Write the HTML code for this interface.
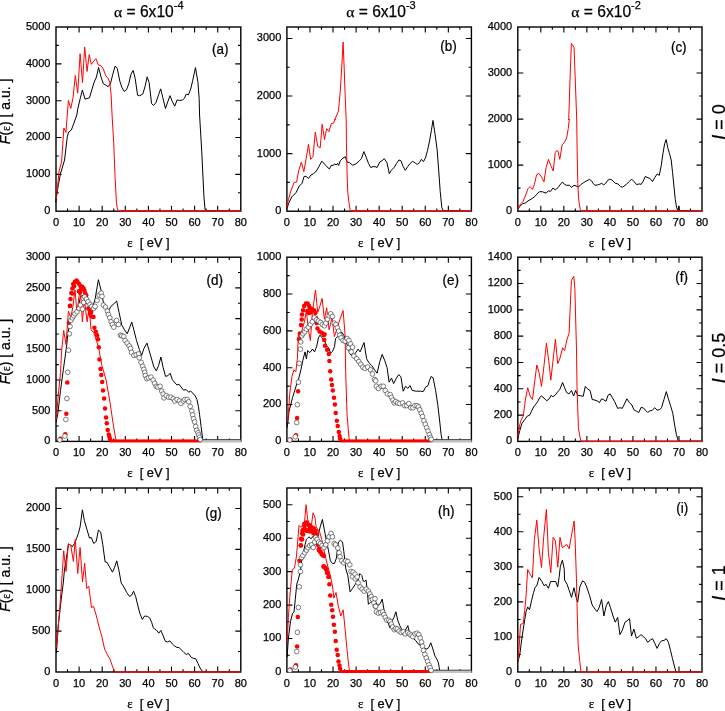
<!DOCTYPE html>
<html><head><meta charset="utf-8"><style>
html,body{margin:0;padding:0;background:#fff;}
svg{display:block;}
text{font-family:"Liberation Sans",sans-serif;fill:#000;stroke:#000;stroke-width:0.25px;}
.t{font-size:11.0px;}
.pl{font-size:15px;}
.xl{font-size:12.8px;}
.yl{font-size:14px;}
.rl{font-size:18px;}
.ti{font-size:15.6px;}
.al{font-family:"Liberation Serif",serif;}
.gr{font-family:"Liberation Serif",serif;}
</style></head><body>
<svg width="725" height="711" viewBox="0 0 725 711" style="will-change:transform">
<rect width="725" height="711" fill="#fff"/>
<path d="M67.55 211.2v-2.8M67.55 27v2.8M79.1 211.2v-5.5M79.1 27v5.5M90.65 211.2v-2.8M90.65 27v2.8M102.2 211.2v-5.5M102.2 27v5.5M113.75 211.2v-2.8M113.75 27v2.8M125.3 211.2v-5.5M125.3 27v5.5M136.85 211.2v-2.8M136.85 27v2.8M148.4 211.2v-5.5M148.4 27v5.5M159.95 211.2v-2.8M159.95 27v2.8M171.5 211.2v-5.5M171.5 27v5.5M183.05 211.2v-2.8M183.05 27v2.8M194.6 211.2v-5.5M194.6 27v5.5M206.15 211.2v-2.8M206.15 27v2.8M217.7 211.2v-5.5M217.7 27v5.5M229.25 211.2v-2.8M229.25 27v2.8M56 192.78h2.8M240.8 192.78h-2.8M56 174.36h5.5M240.8 174.36h-5.5M56 155.94h2.8M240.8 155.94h-2.8M56 137.52h5.5M240.8 137.52h-5.5M56 119.1h2.8M240.8 119.1h-2.8M56 100.68h5.5M240.8 100.68h-5.5M56 82.26h2.8M240.8 82.26h-2.8M56 63.84h5.5M240.8 63.84h-5.5M56 45.42h2.8M240.8 45.42h-2.8" stroke="#000" stroke-width="1.1" fill="none"/>
<text x="56" y="226" text-anchor="middle" class="t">0</text>
<text x="79.1" y="226" text-anchor="middle" class="t">10</text>
<text x="102.2" y="226" text-anchor="middle" class="t">20</text>
<text x="125.3" y="226" text-anchor="middle" class="t">30</text>
<text x="148.4" y="226" text-anchor="middle" class="t">40</text>
<text x="171.5" y="226" text-anchor="middle" class="t">50</text>
<text x="194.6" y="226" text-anchor="middle" class="t">60</text>
<text x="217.7" y="226" text-anchor="middle" class="t">70</text>
<text x="240.8" y="226" text-anchor="middle" class="t">80</text>
<text x="50.4" y="214.1" text-anchor="end" class="t">0</text>
<text x="50.4" y="177.26" text-anchor="end" class="t">1000</text>
<text x="50.4" y="140.42" text-anchor="end" class="t">2000</text>
<text x="50.4" y="103.58" text-anchor="end" class="t">3000</text>
<text x="50.4" y="66.74" text-anchor="end" class="t">4000</text>
<text x="50.4" y="29.9" text-anchor="end" class="t">5000</text>
<rect x="56" y="27" width="184.8" height="184.2" fill="none" stroke="#000" stroke-width="1.4"/>
<polyline points="55.68,202.36 56.36,196.9 58.41,184.61 60.46,173.69 64.55,160.04 67.28,136.84 68.65,132.06 71.38,130.01 76.84,115 77.71,109.18 80.39,97.82 82.39,90.07 85.06,99.16 89.47,97.82 94.02,82.45 96.42,77.11 98.56,67.49 101.1,77.11 103.37,83.79 105.77,85.13 108.18,86.73 110.45,83.79 112.72,74.44 115.13,66.15 117.26,68.42 119.8,81.12 121.81,87.13 124.21,91.41 126.48,89.8 128.76,83.79 130.89,74.44 133.16,70.43 135.17,78.45 137.57,95.15 139.85,95.82 142.92,93.81 145.19,85.79 147.19,76.84 147.05,76.84 149.09,82.3 151.55,103.45 153.46,105.49 155.91,102.76 158.64,94.58 160.69,88.85 162.74,97.31 165.46,108.49 167.92,101.4 169.97,95.67 172.29,101.4 174.74,106.17 177.06,100.04 179.79,100.44 182.52,100.04 184.56,97.99 186.2,94.17 188.38,94.85 190.7,89.12 192.75,80.25 195.48,67.57 197.93,82.3 199.16,98.67 199.57,115 201.62,149.11 203.94,196.86 205.03,209.14 205.98,210.5 240.8,211.2" fill="none" stroke="#000" stroke-width="1.0" stroke-linejoin="round"/>
<polyline points="56.09,198.94 56.64,196.62 59.09,170.96 61.55,162.09 63.87,127.97 65.92,132.47 68.36,100.49 70.77,108.51 73.04,97.82 75.31,75.51 77.71,93.14 80.12,53.73 82.52,82.72 84.66,47.05 87.07,71.5 89.21,54.66 91.34,64.42 93.75,61.08 95.89,58.67 98.42,65.08 101.1,65.75 103.37,69.09 105.77,75.77 108.18,78.45 109.78,82.45 111.12,94.48 112.05,115 113.69,142.3 115.06,176.42 116.42,202.36 117.51,209.86 119.15,210.55 150,210.55 240.8,211.2" fill="none" stroke="#ff0000" stroke-width="1.0" stroke-linejoin="round"/>
<path d="M118.5 211.2H240.8" stroke="#d21c1c" stroke-width="1.25"/>
<text transform="translate(220.2 53.8) scale(0.9 1)" text-anchor="middle" class="pl">(a)</text>
<text x="148.4" y="247.2" text-anchor="middle" class="xl"><tspan class="gr">ε</tspan>&#160;&#160;[ eV ]</text>
<path d="M298.43 211.2v-2.8M298.43 27v2.8M309.96 211.2v-5.5M309.96 27v5.5M321.49 211.2v-2.8M321.49 27v2.8M333.02 211.2v-5.5M333.02 27v5.5M344.56 211.2v-2.8M344.56 27v2.8M356.09 211.2v-5.5M356.09 27v5.5M367.62 211.2v-2.8M367.62 27v2.8M379.15 211.2v-5.5M379.15 27v5.5M390.68 211.2v-2.8M390.68 27v2.8M402.21 211.2v-5.5M402.21 27v5.5M413.74 211.2v-2.8M413.74 27v2.8M425.27 211.2v-5.5M425.27 27v5.5M436.81 211.2v-2.8M436.81 27v2.8M448.34 211.2v-5.5M448.34 27v5.5M459.87 211.2v-2.8M459.87 27v2.8M286.9 182.42h2.8M471.4 182.42h-2.8M286.9 153.64h5.5M471.4 153.64h-5.5M286.9 124.86h2.8M471.4 124.86h-2.8M286.9 96.07h5.5M471.4 96.07h-5.5M286.9 67.29h2.8M471.4 67.29h-2.8M286.9 38.51h5.5M471.4 38.51h-5.5" stroke="#000" stroke-width="1.1" fill="none"/>
<text x="286.9" y="226" text-anchor="middle" class="t">0</text>
<text x="309.96" y="226" text-anchor="middle" class="t">10</text>
<text x="333.02" y="226" text-anchor="middle" class="t">20</text>
<text x="356.09" y="226" text-anchor="middle" class="t">30</text>
<text x="379.15" y="226" text-anchor="middle" class="t">40</text>
<text x="402.21" y="226" text-anchor="middle" class="t">50</text>
<text x="425.27" y="226" text-anchor="middle" class="t">60</text>
<text x="448.34" y="226" text-anchor="middle" class="t">70</text>
<text x="471.4" y="226" text-anchor="middle" class="t">80</text>
<text x="281.3" y="214.1" text-anchor="end" class="t">0</text>
<text x="281.3" y="156.54" text-anchor="end" class="t">1000</text>
<text x="281.3" y="98.97" text-anchor="end" class="t">2000</text>
<text x="281.3" y="41.41" text-anchor="end" class="t">3000</text>
<rect x="286.9" y="27" width="184.5" height="184.2" fill="none" stroke="#000" stroke-width="1.4"/>
<polyline points="286.64,209.18 289.09,202.36 291.82,196.9 295.92,192.8 299.33,185.98 302.06,183.25 304.11,176.42 306.16,176.42 308.48,178.47 310.93,175.06 313.66,173.69 316.39,170.96 319.12,166.19 321.85,161.14 324.58,164.14 327.04,166.87 329.36,168.92 331.41,165.23 333.05,165.78 334.41,163.86 336.19,164.96 337.55,163.46 338.64,165.5 340.28,160.73 343.01,158 345.33,156.77 347.1,162.09 349.43,162.5 352.56,165.23 355.98,163.86 359.39,160.73 361.44,158.68 363.89,151.58 366.21,157.31 368.53,163.46 370.72,167.55 373.04,166.59 375.77,166.87 377.05,167.52 379.77,162.07 382.09,160.7 384.28,158.66 387.01,162.75 389.32,173.66 391.37,170.25 394.1,167.52 396.56,163.43 398.87,160.02 400.92,160.7 402.97,166.16 405.29,170.25 407.74,166.57 410.2,163.43 412.52,161.39 415.25,163.02 417.29,164.39 419.34,162.75 421.39,159.34 423.43,161.66 425.48,157.97 427.52,150.47 429.57,140.92 431.34,130.69 432.98,120.46 435.03,134.1 437.07,149.11 438.44,166.84 440.21,191.4 441.85,207.77 443.21,210.5 471.4,211.2" fill="none" stroke="#000" stroke-width="1.0" stroke-linejoin="round"/>
<polyline points="286.64,207.82 288.41,199.63 291.14,190.07 294.28,182.16 296.6,182.16 298.65,170.96 301.38,162.09 303.84,171.65 306.16,158.68 308.48,144.35 310.66,159.36 312.98,156.63 315.3,132.06 317.76,146.39 320.22,147.76 322.13,124.28 324.58,139.57 326.63,128.65 328.95,131.65 331.41,123.46 333.46,123.19 335.23,119.09 334.7,120 338.45,111.18 340.45,89.14 342.19,59.07 343.12,42.1 344.06,65.08 345.13,94.48 346.2,120 346.42,142.3 347.1,175.06 347.79,192.8 349.15,203.72 350.24,210.55 471.4,211.2" fill="none" stroke="#ff0000" stroke-width="1.0" stroke-linejoin="round"/>
<path d="M350.5 211.2H471.4" stroke="#d21c1c" stroke-width="1.25"/>
<text transform="translate(448.55 50.5) scale(0.9 1)" text-anchor="middle" class="pl">(b)</text>
<text x="379.15" y="247.2" text-anchor="middle" class="xl"><tspan class="gr">ε</tspan>&#160;&#160;[ eV ]</text>
<path d="M529.31 211.2v-2.8M529.31 27v2.8M540.82 211.2v-5.5M540.82 27v5.5M552.34 211.2v-2.8M552.34 27v2.8M563.85 211.2v-5.5M563.85 27v5.5M575.36 211.2v-2.8M575.36 27v2.8M586.88 211.2v-5.5M586.88 27v5.5M598.39 211.2v-2.8M598.39 27v2.8M609.9 211.2v-5.5M609.9 27v5.5M621.41 211.2v-2.8M621.41 27v2.8M632.92 211.2v-5.5M632.92 27v5.5M644.44 211.2v-2.8M644.44 27v2.8M655.95 211.2v-5.5M655.95 27v5.5M667.46 211.2v-2.8M667.46 27v2.8M678.98 211.2v-5.5M678.98 27v5.5M690.49 211.2v-2.8M690.49 27v2.8M517.8 188.17h2.8M702 188.17h-2.8M517.8 165.15h5.5M702 165.15h-5.5M517.8 142.12h2.8M702 142.12h-2.8M517.8 119.1h5.5M702 119.1h-5.5M517.8 96.07h2.8M702 96.07h-2.8M517.8 73.05h5.5M702 73.05h-5.5M517.8 50.02h2.8M702 50.02h-2.8" stroke="#000" stroke-width="1.1" fill="none"/>
<text x="517.8" y="226" text-anchor="middle" class="t">0</text>
<text x="540.82" y="226" text-anchor="middle" class="t">10</text>
<text x="563.85" y="226" text-anchor="middle" class="t">20</text>
<text x="586.88" y="226" text-anchor="middle" class="t">30</text>
<text x="609.9" y="226" text-anchor="middle" class="t">40</text>
<text x="632.92" y="226" text-anchor="middle" class="t">50</text>
<text x="655.95" y="226" text-anchor="middle" class="t">60</text>
<text x="678.98" y="226" text-anchor="middle" class="t">70</text>
<text x="702" y="226" text-anchor="middle" class="t">80</text>
<text x="512.2" y="214.1" text-anchor="end" class="t">0</text>
<text x="512.2" y="168.05" text-anchor="end" class="t">1000</text>
<text x="512.2" y="122" text-anchor="end" class="t">2000</text>
<text x="512.2" y="75.95" text-anchor="end" class="t">3000</text>
<text x="512.2" y="29.9" text-anchor="end" class="t">4000</text>
<rect x="517.8" y="27" width="184.2" height="184.2" fill="none" stroke="#000" stroke-width="1.4"/>
<polyline points="517.46,209.86 519.78,206.45 522.51,203.72 525.24,203.04 527.97,200.99 531.38,198.94 534.79,196.62 536.84,194.17 539.57,191.71 542.3,191.71 546.12,193.21 548.44,190.75 550.49,191.44 552.95,188.02 555.27,189.8 558,187.61 560.04,184.89 562.5,181.88 564.41,184.34 566.59,185.29 569.32,185.29 571.65,187.34 573.97,185.29 576.15,185.98 578.47,187.07 580.79,184.61 583.25,182.84 585.98,181.2 589.39,179.43 591.44,180.79 593.07,183.25 594.85,185.29 597.58,184.89 599.63,184.34 601.67,183.25 603.72,184.89 605.77,183.25 607.82,180.24 609.78,179.15 611.82,179.83 615.24,183.25 617.97,183.93 620.7,186.66 622.74,187.07 626.16,184.61 628.89,181.88 631.62,179.15 634.35,181.88 636.67,184.61 639.12,183.93 641.17,184.34 643.22,181.2 645.26,176.42 647.99,177.79 650.04,178.47 652.5,181.61 654.82,177.51 657.14,173.96 659.32,175.33 661.23,165.5 663.01,153.22 664.65,143.66 666.15,139.57 667.79,147.76 669.42,153.22 671.2,160.04 672.56,172.33 673.93,185.97 675.29,199.62 676.66,207.81 677.75,210.54 678.7,206.18 679.52,210.54 702,211.2" fill="none" stroke="#000" stroke-width="1.0" stroke-linejoin="round"/>
<polyline points="517.46,209.86 519.09,205.77 521.14,203.45 522.92,201.67 525.24,196.21 527.97,188.71 530.01,186.66 532.47,189.39 534.38,184.61 536.57,174.78 538.89,173.42 541.62,177.1 543.94,181.88 546.12,167.55 548.44,159.36 550.76,165.5 553.22,170.96 555.27,152.54 556.63,150.49 558,151.17 559.77,159.36 562.09,145.03 564.41,142.3 566.59,138.2 568.23,128.65 569.32,119.09 568.71,120 570.05,78.45 571.39,43.44 572.45,44.77 574.06,47.71 575.13,75.77 576.73,120 577.1,149.12 577.79,183.25 578.47,196.9 579.43,205.09 580.52,210.55 702,211.2" fill="none" stroke="#ff0000" stroke-width="1.0" stroke-linejoin="round"/>
<path d="M581 211.2H702" stroke="#d21c1c" stroke-width="1.25"/>
<text transform="translate(678.75 51.95) scale(0.9 1)" text-anchor="middle" class="pl">(c)</text>
<text x="609.9" y="247.2" text-anchor="middle" class="xl"><tspan class="gr">ε</tspan>&#160;&#160;[ eV ]</text>
<path d="M67.55 441.4v-2.8M67.55 257.2v2.8M79.1 441.4v-5.5M79.1 257.2v5.5M90.65 441.4v-2.8M90.65 257.2v2.8M102.2 441.4v-5.5M102.2 257.2v5.5M113.75 441.4v-2.8M113.75 257.2v2.8M125.3 441.4v-5.5M125.3 257.2v5.5M136.85 441.4v-2.8M136.85 257.2v2.8M148.4 441.4v-5.5M148.4 257.2v5.5M159.95 441.4v-2.8M159.95 257.2v2.8M171.5 441.4v-5.5M171.5 257.2v5.5M183.05 441.4v-2.8M183.05 257.2v2.8M194.6 441.4v-5.5M194.6 257.2v5.5M206.15 441.4v-2.8M206.15 257.2v2.8M217.7 441.4v-5.5M217.7 257.2v5.5M229.25 441.4v-2.8M229.25 257.2v2.8M56 426.05h2.8M240.8 426.05h-2.8M56 410.7h5.5M240.8 410.7h-5.5M56 395.35h2.8M240.8 395.35h-2.8M56 380h5.5M240.8 380h-5.5M56 364.65h2.8M240.8 364.65h-2.8M56 349.3h5.5M240.8 349.3h-5.5M56 333.95h2.8M240.8 333.95h-2.8M56 318.6h5.5M240.8 318.6h-5.5M56 303.25h2.8M240.8 303.25h-2.8M56 287.9h5.5M240.8 287.9h-5.5M56 272.55h2.8M240.8 272.55h-2.8" stroke="#000" stroke-width="1.1" fill="none"/>
<text x="56" y="456.2" text-anchor="middle" class="t">0</text>
<text x="79.1" y="456.2" text-anchor="middle" class="t">10</text>
<text x="102.2" y="456.2" text-anchor="middle" class="t">20</text>
<text x="125.3" y="456.2" text-anchor="middle" class="t">30</text>
<text x="148.4" y="456.2" text-anchor="middle" class="t">40</text>
<text x="171.5" y="456.2" text-anchor="middle" class="t">50</text>
<text x="194.6" y="456.2" text-anchor="middle" class="t">60</text>
<text x="217.7" y="456.2" text-anchor="middle" class="t">70</text>
<text x="240.8" y="456.2" text-anchor="middle" class="t">80</text>
<text x="50.4" y="444.3" text-anchor="end" class="t">0</text>
<text x="50.4" y="413.6" text-anchor="end" class="t">500</text>
<text x="50.4" y="382.9" text-anchor="end" class="t">1000</text>
<text x="50.4" y="352.2" text-anchor="end" class="t">1500</text>
<text x="50.4" y="321.5" text-anchor="end" class="t">2000</text>
<text x="50.4" y="290.8" text-anchor="end" class="t">2500</text>
<text x="50.4" y="260.1" text-anchor="end" class="t">3000</text>
<rect x="56" y="257.2" width="184.8" height="184.2" fill="none" stroke="#000" stroke-width="1.4"/>
<polyline points="56.1,422.2 57.8,413.9 60.5,390.5 63.3,369.8 66.5,347 67.7,335.2 69.4,324.5 71,317.8 73.7,313.8 75.7,311.1 77,312.5 79,304.4 80.4,296.4 83.7,295.1 87.1,303.1 90,306.4 93.1,305.8 95.1,299.1 98.4,279.7 101.1,290.4 103.1,301.1 105.8,307.8 108.4,311.1 110.9,306.4 113.8,303.8 116.7,301.1 119.1,312.5 121.8,325.1 124.5,329.8 127.2,333.8 129.8,327.2 131.8,322.1 133.8,329.8 136.5,340.5 139.3,349.3 141.6,355.4 143.9,348.5 147,343.1 150.1,353.9 153.9,367 156.3,370.9 158.6,365.5 160.9,357 163.2,367.8 165.5,376.3 167.8,375.8 170.2,373.2 172.3,379.7 176.9,385 179,384.3 183.6,390.2 186,389.5 188.8,392.3 190.6,390.9 195.2,395.9 196.9,399.4 198.4,406.5 199.5,414.2 201.1,426.5 202.3,435.8 202.9,440.4 204.2,441.2 240.8,441.2" fill="none" stroke="#000" stroke-width="1.0" stroke-linejoin="round"/>
<polyline points="56.4,419.5 57.8,400.2 60.5,372.6 61.7,350 63.7,330.5 66,344.5 68.4,311.1 70.8,317.8 73,305.8 75,289.7 77,313.8 78.8,297.8 80.4,288.4 82.4,321.8 84.4,299.1 87.1,321.8 89.1,308.4 91.1,329.8 93.7,332.5 96.4,340.5 98.5,347 101.9,365.7 106,379.5 110.1,402.9 112.9,422.2 115.7,438.8 116.4,440.6 240.8,441.2" fill="none" stroke="#ff0000" stroke-width="1.0" stroke-linejoin="round"/>
<g fill="#ff0000"><circle cx="60.5" cy="438.8" r="2.25"/><circle cx="65.3" cy="434.3" r="2.25"/><circle cx="66.3" cy="413.8" r="2.25"/><circle cx="67.3" cy="382.6" r="2.25"/><circle cx="68.8" cy="323" r="2.25"/><circle cx="69.8" cy="305.9" r="2.25"/><circle cx="70.2" cy="305.7" r="2.25"/><circle cx="70.5" cy="299" r="2.25"/><circle cx="71.3" cy="293" r="2.25"/><circle cx="72.4" cy="288.5" r="2.25"/><circle cx="72.7" cy="293.6" r="2.25"/><circle cx="73.2" cy="284" r="2.25"/><circle cx="74.1" cy="286.2" r="2.25"/><circle cx="74.9" cy="281.7" r="2.25"/><circle cx="76.6" cy="280.6" r="2.25"/><circle cx="77.7" cy="282.3" r="2.25"/><circle cx="79.2" cy="284" r="2.25"/><circle cx="78.9" cy="291.3" r="2.25"/><circle cx="80" cy="292.4" r="2.25"/><circle cx="80.6" cy="286.2" r="2.25"/><circle cx="81.1" cy="289.6" r="2.25"/><circle cx="82.2" cy="286.8" r="2.25"/><circle cx="83.7" cy="288.5" r="2.25"/><circle cx="84.5" cy="290.7" r="2.25"/><circle cx="85.3" cy="293.6" r="2.25"/><circle cx="86.2" cy="295.2" r="2.25"/><circle cx="86.7" cy="302" r="2.25"/><circle cx="88.4" cy="308.4" r="2.25"/><circle cx="89" cy="308.7" r="2.25"/><circle cx="90" cy="313.8" r="2.25"/><circle cx="91.2" cy="312.1" r="2.25"/><circle cx="91.7" cy="316.5" r="2.25"/><circle cx="93.5" cy="317.1" r="2.25"/><circle cx="94.4" cy="327.8" r="2.25"/><circle cx="95.8" cy="331.8" r="2.25"/><circle cx="97.1" cy="335.2" r="2.25"/><circle cx="98" cy="339.2" r="2.25"/><circle cx="98.8" cy="347.3" r="2.25"/><circle cx="99.4" cy="359.5" r="2.25"/><circle cx="100.5" cy="369.1" r="2.25"/><circle cx="101.3" cy="375.1" r="2.25"/><circle cx="102.2" cy="382" r="2.25"/><circle cx="103" cy="390.5" r="2.25"/><circle cx="104.1" cy="398.5" r="2.25"/><circle cx="105" cy="408.4" r="2.25"/><circle cx="106" cy="417.4" r="2.25"/><circle cx="106.8" cy="423.3" r="2.25"/><circle cx="107.7" cy="430.1" r="2.25"/><circle cx="108.8" cy="434.6" r="2.25"/><circle cx="109.5" cy="437.1" r="2.25"/><circle cx="110.1" cy="439.4" r="2.25"/></g>
<rect x="109.8" y="439.4" width="91.1" height="3" fill="#ff0000"/>
<rect x="199.5" y="439.6" width="41.3" height="2.8" fill="#c4c4c4"/>
<path d="M199.5 439.6H240.8" stroke="#333" stroke-width="0.9"/>
<g fill="#fff" stroke="#2a2a2a" stroke-width="0.6"><circle cx="59.8" cy="440.1" r="2.35"/><circle cx="64.9" cy="436" r="2.35"/><circle cx="65.8" cy="419.5" r="2.35"/><circle cx="66.9" cy="398.5" r="2.35"/><circle cx="67.7" cy="372.3" r="2.35"/><circle cx="68.5" cy="350.2" r="2.35"/><circle cx="69.4" cy="333.8" r="2.35"/><circle cx="70" cy="326.5" r="2.35"/><circle cx="70.8" cy="320.5" r="2.35"/><circle cx="72.4" cy="317.8" r="2.35"/><circle cx="73.7" cy="315.8" r="2.35"/><circle cx="75" cy="313.8" r="2.35"/><circle cx="77" cy="311.8" r="2.35"/><circle cx="79" cy="308.4" r="2.35"/><circle cx="80.4" cy="305.1" r="2.35"/><circle cx="82.4" cy="309.1" r="2.35"/><circle cx="83.7" cy="302.4" r="2.35"/><circle cx="84.7" cy="296.7" r="2.35"/><circle cx="86.4" cy="299.1" r="2.35"/><circle cx="88.1" cy="301.8" r="2.35"/><circle cx="90" cy="304.4" r="2.35"/><circle cx="91.7" cy="306.4" r="2.35"/><circle cx="93.7" cy="308.4" r="2.35"/><circle cx="95.1" cy="306.4" r="2.35"/><circle cx="97.1" cy="300.4" r="2.35"/><circle cx="99.1" cy="295.1" r="2.35"/><circle cx="101.1" cy="293.1" r="2.35"/><circle cx="102" cy="296.4" r="2.35"/><circle cx="103.4" cy="305.1" r="2.35"/><circle cx="105.5" cy="307.1" r="2.35"/><circle cx="107.4" cy="311.1" r="2.35"/><circle cx="108.4" cy="314.5" r="2.35"/><circle cx="109.8" cy="317.8" r="2.35"/><circle cx="111.1" cy="321.8" r="2.35"/><circle cx="112.5" cy="324.5" r="2.35"/><circle cx="113.8" cy="327.2" r="2.35"/><circle cx="116.5" cy="320.5" r="2.35"/><circle cx="118.5" cy="324.5" r="2.35"/><circle cx="120.5" cy="335.2" r="2.35"/><circle cx="121.8" cy="335.8" r="2.35"/><circle cx="123.8" cy="336.5" r="2.35"/><circle cx="125.1" cy="340.5" r="2.35"/><circle cx="127.2" cy="343.2" r="2.35"/><circle cx="129.2" cy="345.9" r="2.35"/><circle cx="130.5" cy="348.5" r="2.35"/><circle cx="131.5" cy="352.4" r="2.35"/><circle cx="133.9" cy="355.4" r="2.35"/><circle cx="136.2" cy="354.7" r="2.35"/><circle cx="138.5" cy="353.9" r="2.35"/><circle cx="139.3" cy="357.8" r="2.35"/><circle cx="141.1" cy="362.4" r="2.35"/><circle cx="142.7" cy="366.3" r="2.35"/><circle cx="143.9" cy="369.4" r="2.35"/><circle cx="144.7" cy="372.4" r="2.35"/><circle cx="145.4" cy="375.5" r="2.35"/><circle cx="146.7" cy="378.6" r="2.35"/><circle cx="148.5" cy="377.8" r="2.35"/><circle cx="150.9" cy="377.1" r="2.35"/><circle cx="153.2" cy="380.2" r="2.35"/><circle cx="154.7" cy="383.3" r="2.35"/><circle cx="156.3" cy="386.3" r="2.35"/><circle cx="157.8" cy="387.1" r="2.35"/><circle cx="160.1" cy="386.3" r="2.35"/><circle cx="161.7" cy="391" r="2.35"/><circle cx="163.2" cy="394.1" r="2.35"/><circle cx="164" cy="397.9" r="2.35"/><circle cx="166.3" cy="395.6" r="2.35"/><circle cx="168.6" cy="397.2" r="2.35"/><circle cx="170.9" cy="397.2" r="2.35"/><circle cx="173.3" cy="398.7" r="2.35"/><circle cx="174.8" cy="401" r="2.35"/><circle cx="177.1" cy="399.5" r="2.35"/><circle cx="179.4" cy="401" r="2.35"/><circle cx="181" cy="403.3" r="2.35"/><circle cx="183.3" cy="401" r="2.35"/><circle cx="184.8" cy="399.5" r="2.35"/><circle cx="187.2" cy="399.5" r="2.35"/><circle cx="188.7" cy="401.8" r="2.35"/><circle cx="190.2" cy="406.4" r="2.35"/><circle cx="191.8" cy="411.1" r="2.35"/><circle cx="192.6" cy="414.9" r="2.35"/><circle cx="193.6" cy="418.8" r="2.35"/><circle cx="194.6" cy="421.9" r="2.35"/><circle cx="195.7" cy="426.5" r="2.35"/><circle cx="196.7" cy="430.4" r="2.35"/><circle cx="198" cy="432.7" r="2.35"/><circle cx="198.7" cy="435" r="2.35"/><circle cx="199.5" cy="437.3" r="2.35"/><circle cx="200.3" cy="439.6" r="2.35"/></g>
<text transform="translate(214.85 284.5) scale(0.9 1)" text-anchor="middle" class="pl">(d)</text>
<text x="148.4" y="477.4" text-anchor="middle" class="xl"><tspan class="gr">ε</tspan>&#160;&#160;[ eV ]</text>
<path d="M298.43 441.4v-2.8M298.43 257.2v2.8M309.96 441.4v-5.5M309.96 257.2v5.5M321.49 441.4v-2.8M321.49 257.2v2.8M333.02 441.4v-5.5M333.02 257.2v5.5M344.56 441.4v-2.8M344.56 257.2v2.8M356.09 441.4v-5.5M356.09 257.2v5.5M367.62 441.4v-2.8M367.62 257.2v2.8M379.15 441.4v-5.5M379.15 257.2v5.5M390.68 441.4v-2.8M390.68 257.2v2.8M402.21 441.4v-5.5M402.21 257.2v5.5M413.74 441.4v-2.8M413.74 257.2v2.8M425.27 441.4v-5.5M425.27 257.2v5.5M436.81 441.4v-2.8M436.81 257.2v2.8M448.34 441.4v-5.5M448.34 257.2v5.5M459.87 441.4v-2.8M459.87 257.2v2.8M286.9 422.98h2.8M471.4 422.98h-2.8M286.9 404.56h5.5M471.4 404.56h-5.5M286.9 386.14h2.8M471.4 386.14h-2.8M286.9 367.72h5.5M471.4 367.72h-5.5M286.9 349.3h2.8M471.4 349.3h-2.8M286.9 330.88h5.5M471.4 330.88h-5.5M286.9 312.46h2.8M471.4 312.46h-2.8M286.9 294.04h5.5M471.4 294.04h-5.5M286.9 275.62h2.8M471.4 275.62h-2.8" stroke="#000" stroke-width="1.1" fill="none"/>
<text x="286.9" y="456.2" text-anchor="middle" class="t">0</text>
<text x="309.96" y="456.2" text-anchor="middle" class="t">10</text>
<text x="333.02" y="456.2" text-anchor="middle" class="t">20</text>
<text x="356.09" y="456.2" text-anchor="middle" class="t">30</text>
<text x="379.15" y="456.2" text-anchor="middle" class="t">40</text>
<text x="402.21" y="456.2" text-anchor="middle" class="t">50</text>
<text x="425.27" y="456.2" text-anchor="middle" class="t">60</text>
<text x="448.34" y="456.2" text-anchor="middle" class="t">70</text>
<text x="471.4" y="456.2" text-anchor="middle" class="t">80</text>
<text x="281.3" y="444.3" text-anchor="end" class="t">0</text>
<text x="281.3" y="407.46" text-anchor="end" class="t">200</text>
<text x="281.3" y="370.62" text-anchor="end" class="t">400</text>
<text x="281.3" y="333.78" text-anchor="end" class="t">600</text>
<text x="281.3" y="296.94" text-anchor="end" class="t">800</text>
<text x="281.3" y="260.1" text-anchor="end" class="t">1000</text>
<rect x="286.9" y="257.2" width="184.5" height="184.2" fill="none" stroke="#000" stroke-width="1.4"/>
<polyline points="287.1,427.7 289.1,411.2 292.6,397.4 296,386.4 298.8,378.1 300.9,369.8 302.9,360.2 305,351.9 306.4,358.8 307.7,350.5 309.8,352.6 312.6,349.1 314.6,351.9 316.7,346.4 318.4,337.8 320,335.2 322.1,337.8 324.4,340.5 326.7,345.9 329.1,348.5 330.5,353.3 332.6,351.2 334.6,346.4 335.5,338.5 337.8,336.5 339.8,333.8 341.8,332.2 343.8,335.2 345.8,340.5 347.8,347.2 350,354 352.6,356 355.3,353.3 358.1,349.1 360.1,351.9 364,342.5 366.6,358.8 369.1,362.9 371.9,365.7 374.6,369.8 377.1,373.2 379.8,361.5 382.2,354.4 384.6,360.2 387.1,367.7 389.1,382.2 391.5,378.1 393.6,383.6 396.4,378.1 398.7,374.6 400.9,376.7 403.2,391.2 405.6,386.3 407.8,388.4 410.1,385.6 412.2,390.5 416.3,391.2 420.5,391.2 423.2,391.6 425.7,387 428,385.6 429.4,380.8 431.2,376.4 433.1,377.8 435.6,390.5 437.7,404.2 439.8,422.2 441.1,434.6 442.2,440.1 443.5,441.2 471.4,441.2" fill="none" stroke="#000" stroke-width="1.0" stroke-linejoin="round"/>
<polyline points="287.8,422.2 289.8,393.3 291.9,376.7 294,369.8 295.8,371.9 297.4,358.8 298.4,332.5 300,340.5 302.1,329.8 304.4,321.8 306.4,311.1 308.4,329.8 310.4,340.5 312.4,312.5 315.5,290 317.7,312.5 320,305.8 322.1,298.4 324.4,319.1 326.7,307.8 329.1,329.8 332,317.8 334.4,336.5 337.1,328.5 340,319.1 343.1,310.5 345.1,335.2 345.7,372.6 347,413.9 348.1,427.7 349.1,438.8 349.8,440.6 471.4,441.2" fill="none" stroke="#ff0000" stroke-width="1.0" stroke-linejoin="round"/>
<g fill="#ff0000"><circle cx="290.5" cy="439.4" r="2.25"/><circle cx="296" cy="435.3" r="2.25"/><circle cx="297.1" cy="418.1" r="2.25"/><circle cx="298.1" cy="391.2" r="2.25"/><circle cx="299" cy="339.2" r="2.25"/><circle cx="299.9" cy="333.5" r="2.25"/><circle cx="301" cy="325.1" r="2.25"/><circle cx="301.7" cy="319.5" r="2.25"/><circle cx="302" cy="314.5" r="2.25"/><circle cx="303.1" cy="310.3" r="2.25"/><circle cx="304.1" cy="306.1" r="2.25"/><circle cx="305.9" cy="303.6" r="2.25"/><circle cx="307.7" cy="303.6" r="2.25"/><circle cx="309.1" cy="306.1" r="2.25"/><circle cx="310.1" cy="308.2" r="2.25"/><circle cx="311.9" cy="308.9" r="2.25"/><circle cx="314" cy="310.3" r="2.25"/><circle cx="315.4" cy="313.1" r="2.25"/><circle cx="307.3" cy="311" r="2.25"/><circle cx="308.7" cy="313.1" r="2.25"/><circle cx="310.5" cy="312.4" r="2.25"/><circle cx="316" cy="318" r="2.25"/><circle cx="316.6" cy="323" r="2.25"/><circle cx="317.5" cy="328.6" r="2.25"/><circle cx="319.6" cy="331.4" r="2.25"/><circle cx="321.7" cy="332.8" r="2.25"/><circle cx="323.7" cy="335.2" r="2.25"/><circle cx="324.5" cy="334.2" r="2.25"/><circle cx="325" cy="345.7" r="2.25"/><circle cx="324.2" cy="340" r="2.25"/><circle cx="327.1" cy="349.8" r="2.25"/><circle cx="328.8" cy="354" r="2.25"/><circle cx="329.4" cy="360.9" r="2.25"/><circle cx="330.2" cy="371.2" r="2.25"/><circle cx="331.2" cy="379.5" r="2.25"/><circle cx="331.9" cy="385" r="2.25"/><circle cx="332.8" cy="390.5" r="2.25"/><circle cx="334" cy="397.8" r="2.25"/><circle cx="334.9" cy="404.6" r="2.25"/><circle cx="335.7" cy="413" r="2.25"/><circle cx="336.8" cy="420.8" r="2.25"/><circle cx="337.7" cy="426.1" r="2.25"/><circle cx="338.8" cy="431.9" r="2.25"/><circle cx="339.6" cy="436" r="2.25"/><circle cx="340.1" cy="438.8" r="2.25"/></g>
<rect x="339.8" y="439.4" width="91.3" height="3" fill="#ff0000"/>
<rect x="430.5" y="439.6" width="41" height="2.8" fill="#c4c4c4"/>
<path d="M430.5 439.6H471.5" stroke="#333" stroke-width="0.9"/>
<g fill="#fff" stroke="#2a2a2a" stroke-width="0.6"><circle cx="289.8" cy="440.1" r="2.35"/><circle cx="295.3" cy="436.7" r="2.35"/><circle cx="296.7" cy="422.5" r="2.35"/><circle cx="297.4" cy="404.7" r="2.35"/><circle cx="298.4" cy="382.2" r="2.35"/><circle cx="299.2" cy="363.3" r="2.35"/><circle cx="300.4" cy="349.1" r="2.35"/><circle cx="300.8" cy="341.9" r="2.35"/><circle cx="301.7" cy="335.8" r="2.35"/><circle cx="303" cy="333.8" r="2.35"/><circle cx="304.8" cy="331.8" r="2.35"/><circle cx="306.4" cy="329.2" r="2.35"/><circle cx="308.4" cy="327.2" r="2.35"/><circle cx="310.4" cy="324.5" r="2.35"/><circle cx="312.4" cy="321.8" r="2.35"/><circle cx="314.4" cy="317.8" r="2.35"/><circle cx="316.4" cy="319.8" r="2.35"/><circle cx="318.4" cy="321.1" r="2.35"/><circle cx="320.4" cy="322.5" r="2.35"/><circle cx="322.4" cy="324.5" r="2.35"/><circle cx="324.4" cy="325.8" r="2.35"/><circle cx="325.8" cy="323.1" r="2.35"/><circle cx="327.5" cy="319.1" r="2.35"/><circle cx="329.1" cy="315.8" r="2.35"/><circle cx="330.7" cy="313.8" r="2.35"/><circle cx="332.4" cy="316.5" r="2.35"/><circle cx="334.2" cy="323.1" r="2.35"/><circle cx="335.8" cy="324.5" r="2.35"/><circle cx="337.4" cy="327.8" r="2.35"/><circle cx="338.7" cy="331.2" r="2.35"/><circle cx="339.8" cy="335.2" r="2.35"/><circle cx="341.1" cy="337.8" r="2.35"/><circle cx="343.1" cy="340.5" r="2.35"/><circle cx="345.1" cy="341.2" r="2.35"/><circle cx="347.1" cy="338.5" r="2.35"/><circle cx="348.4" cy="347.8" r="2.35"/><circle cx="348.9" cy="340.5" r="2.35"/><circle cx="350.5" cy="343.9" r="2.35"/><circle cx="351.2" cy="351.9" r="2.35"/><circle cx="352.5" cy="347.2" r="2.35"/><circle cx="353.9" cy="356" r="2.35"/><circle cx="356.7" cy="358.8" r="2.35"/><circle cx="358.8" cy="361.5" r="2.35"/><circle cx="360.8" cy="364.3" r="2.35"/><circle cx="362.9" cy="367.1" r="2.35"/><circle cx="365" cy="368.4" r="2.35"/><circle cx="367.7" cy="367.1" r="2.35"/><circle cx="370.5" cy="369.8" r="2.35"/><circle cx="372.5" cy="374" r="2.35"/><circle cx="374.6" cy="379.5" r="2.35"/><circle cx="375.7" cy="380.8" r="2.35"/><circle cx="376.4" cy="386.3" r="2.35"/><circle cx="378.4" cy="388.4" r="2.35"/><circle cx="381.2" cy="386.3" r="2.35"/><circle cx="383.3" cy="386.3" r="2.35"/><circle cx="385.3" cy="390.5" r="2.35"/><circle cx="387.4" cy="393.9" r="2.35"/><circle cx="390.2" cy="394.6" r="2.35"/><circle cx="391.5" cy="397.4" r="2.35"/><circle cx="392.9" cy="400.1" r="2.35"/><circle cx="394.3" cy="402.9" r="2.35"/><circle cx="395.7" cy="401.5" r="2.35"/><circle cx="397.7" cy="402.9" r="2.35"/><circle cx="399.8" cy="403.6" r="2.35"/><circle cx="402.6" cy="402.9" r="2.35"/><circle cx="404.6" cy="405.6" r="2.35"/><circle cx="406.7" cy="405.6" r="2.35"/><circle cx="408.8" cy="403.6" r="2.35"/><circle cx="410.8" cy="407.7" r="2.35"/><circle cx="412.9" cy="407.7" r="2.35"/><circle cx="415" cy="405.6" r="2.35"/><circle cx="417" cy="405.6" r="2.35"/><circle cx="418.4" cy="407" r="2.35"/><circle cx="419.8" cy="409.8" r="2.35"/><circle cx="421.2" cy="413.2" r="2.35"/><circle cx="422.5" cy="416.6" r="2.35"/><circle cx="423.9" cy="420.8" r="2.35"/><circle cx="425.3" cy="424.2" r="2.35"/><circle cx="426.7" cy="427.7" r="2.35"/><circle cx="428" cy="431.1" r="2.35"/><circle cx="429.4" cy="434.6" r="2.35"/><circle cx="430.4" cy="437.3" r="2.35"/><circle cx="431.2" cy="439.4" r="2.35"/></g>
<text transform="translate(450.85 284.65) scale(0.9 1)" text-anchor="middle" class="pl">(e)</text>
<text x="379.15" y="477.4" text-anchor="middle" class="xl"><tspan class="gr">ε</tspan>&#160;&#160;[ eV ]</text>
<path d="M529.31 441.4v-2.8M529.31 257.2v2.8M540.82 441.4v-5.5M540.82 257.2v5.5M552.34 441.4v-2.8M552.34 257.2v2.8M563.85 441.4v-5.5M563.85 257.2v5.5M575.36 441.4v-2.8M575.36 257.2v2.8M586.88 441.4v-5.5M586.88 257.2v5.5M598.39 441.4v-2.8M598.39 257.2v2.8M609.9 441.4v-5.5M609.9 257.2v5.5M621.41 441.4v-2.8M621.41 257.2v2.8M632.92 441.4v-5.5M632.92 257.2v5.5M644.44 441.4v-2.8M644.44 257.2v2.8M655.95 441.4v-5.5M655.95 257.2v5.5M667.46 441.4v-2.8M667.46 257.2v2.8M678.98 441.4v-5.5M678.98 257.2v5.5M690.49 441.4v-2.8M690.49 257.2v2.8M517.8 428.24h2.8M702 428.24h-2.8M517.8 415.09h5.5M702 415.09h-5.5M517.8 401.93h2.8M702 401.93h-2.8M517.8 388.77h5.5M702 388.77h-5.5M517.8 375.61h2.8M702 375.61h-2.8M517.8 362.46h5.5M702 362.46h-5.5M517.8 349.3h2.8M702 349.3h-2.8M517.8 336.14h5.5M702 336.14h-5.5M517.8 322.99h2.8M702 322.99h-2.8M517.8 309.83h5.5M702 309.83h-5.5M517.8 296.67h2.8M702 296.67h-2.8M517.8 283.51h5.5M702 283.51h-5.5M517.8 270.36h2.8M702 270.36h-2.8" stroke="#000" stroke-width="1.1" fill="none"/>
<text x="517.8" y="456.2" text-anchor="middle" class="t">0</text>
<text x="540.82" y="456.2" text-anchor="middle" class="t">10</text>
<text x="563.85" y="456.2" text-anchor="middle" class="t">20</text>
<text x="586.88" y="456.2" text-anchor="middle" class="t">30</text>
<text x="609.9" y="456.2" text-anchor="middle" class="t">40</text>
<text x="632.92" y="456.2" text-anchor="middle" class="t">50</text>
<text x="655.95" y="456.2" text-anchor="middle" class="t">60</text>
<text x="678.98" y="456.2" text-anchor="middle" class="t">70</text>
<text x="702" y="456.2" text-anchor="middle" class="t">80</text>
<text x="512.2" y="444.3" text-anchor="end" class="t">0</text>
<text x="512.2" y="417.99" text-anchor="end" class="t">200</text>
<text x="512.2" y="391.67" text-anchor="end" class="t">400</text>
<text x="512.2" y="365.36" text-anchor="end" class="t">600</text>
<text x="512.2" y="339.04" text-anchor="end" class="t">800</text>
<text x="512.2" y="312.73" text-anchor="end" class="t">1000</text>
<text x="512.2" y="286.41" text-anchor="end" class="t">1200</text>
<text x="512.2" y="260.1" text-anchor="end" class="t">1400</text>
<rect x="517.8" y="257.2" width="184.2" height="184.2" fill="none" stroke="#000" stroke-width="1.4"/>
<polyline points="517.8,438.8 519.8,430.5 521.9,423.6 524.7,419.5 527.4,416 529.5,415.3 531.5,411.2 533.6,407 535.7,404.3 537.7,401.5 539.8,397.4 541.5,396 544,398.1 546.7,400.8 549.2,398.8 551.1,395.3 552.9,396.7 555,395.3 557.7,391.9 559.8,389.4 562.6,382.5 564.6,387.7 566.7,392.6 569,393.9 571.5,390.5 573.6,396 575.7,390.5 577.7,395.3 580.5,395.7 583.2,396.3 585.3,386.4 587.4,388.8 590.1,390.5 592.2,399.5 595,400.1 597,400.8 599.4,402.6 601.6,398.8 603.9,399.9 606,401.3 608,395.3 610.2,393.9 612.2,397.4 614.6,401.5 617.7,408.4 620.2,407.7 622.2,408.4 624.3,404.3 626.8,398.8 629.1,402.2 631.9,405 633.9,409.8 636.4,411.2 638.8,412.5 641.1,407.3 643.6,408.1 645.7,410.5 647.7,412.5 649.8,410.9 652.1,410.5 654.6,407.7 657.1,410.1 659.4,409.8 661.5,407.7 664,399.4 666.3,391.6 668.4,398.8 670.5,405.6 672.8,413.2 674.6,424.9 676.4,434.6 678.2,440.6 679.4,441.2 702,441.2" fill="none" stroke="#000" stroke-width="1.0" stroke-linejoin="round"/>
<polyline points="517.8,436.7 519.1,427.7 520.8,420.8 523.3,416 525.3,400.1 527.7,387.7 530.2,396 532.5,399.5 534.6,382.2 536.8,365 539.1,372.6 541.5,386.4 544,365.7 546.4,343.2 548.8,360.9 550.8,380.2 552.9,361.5 555.4,339.2 557.7,363.6 559.8,358.8 562.6,347.8 564.6,350.5 567.1,339.2 569.1,333.2 571.4,280.4 573.8,276.4 574.9,289.7 576.5,350 577,386.4 578.4,427.7 579.8,436 580.9,441.2 702,441.2" fill="none" stroke="#ff0000" stroke-width="1.0" stroke-linejoin="round"/>
<path d="M581 441.4H702" stroke="#d21c1c" stroke-width="1.25"/>
<text transform="translate(681.65 282.35) scale(0.9 1)" text-anchor="middle" class="pl">(f)</text>
<text x="609.9" y="477.4" text-anchor="middle" class="xl"><tspan class="gr">ε</tspan>&#160;&#160;[ eV ]</text>
<path d="M67.55 672v-2.8M67.55 488v2.8M79.1 672v-5.5M79.1 488v5.5M90.65 672v-2.8M90.65 488v2.8M102.2 672v-5.5M102.2 488v5.5M113.75 672v-2.8M113.75 488v2.8M125.3 672v-5.5M125.3 488v5.5M136.85 672v-2.8M136.85 488v2.8M148.4 672v-5.5M148.4 488v5.5M159.95 672v-2.8M159.95 488v2.8M171.5 672v-5.5M171.5 488v5.5M183.05 672v-2.8M183.05 488v2.8M194.6 672v-5.5M194.6 488v5.5M206.15 672v-2.8M206.15 488v2.8M217.7 672v-5.5M217.7 488v5.5M229.25 672v-2.8M229.25 488v2.8M56 651.56h2.8M240.8 651.56h-2.8M56 631.11h5.5M240.8 631.11h-5.5M56 610.67h2.8M240.8 610.67h-2.8M56 590.22h5.5M240.8 590.22h-5.5M56 569.78h2.8M240.8 569.78h-2.8M56 549.33h5.5M240.8 549.33h-5.5M56 528.89h2.8M240.8 528.89h-2.8M56 508.44h5.5M240.8 508.44h-5.5" stroke="#000" stroke-width="1.1" fill="none"/>
<text x="56" y="686.8" text-anchor="middle" class="t">0</text>
<text x="79.1" y="686.8" text-anchor="middle" class="t">10</text>
<text x="102.2" y="686.8" text-anchor="middle" class="t">20</text>
<text x="125.3" y="686.8" text-anchor="middle" class="t">30</text>
<text x="148.4" y="686.8" text-anchor="middle" class="t">40</text>
<text x="171.5" y="686.8" text-anchor="middle" class="t">50</text>
<text x="194.6" y="686.8" text-anchor="middle" class="t">60</text>
<text x="217.7" y="686.8" text-anchor="middle" class="t">70</text>
<text x="240.8" y="686.8" text-anchor="middle" class="t">80</text>
<text x="50.4" y="674.9" text-anchor="end" class="t">0</text>
<text x="50.4" y="634.01" text-anchor="end" class="t">500</text>
<text x="50.4" y="593.12" text-anchor="end" class="t">1000</text>
<text x="50.4" y="552.23" text-anchor="end" class="t">1500</text>
<text x="50.4" y="511.34" text-anchor="end" class="t">2000</text>
<rect x="56" y="488" width="184.8" height="184" fill="none" stroke="#000" stroke-width="1.4"/>
<polyline points="56.4,653.2 58.4,624.3 61.2,599.4 63.3,582.9 64.4,570.2 66.4,558.2 68.4,544.1 70.4,544.8 72.4,546.8 74.4,543.5 76.4,538.8 78.4,533.4 80.1,526.8 82.4,509.8 84.4,520.7 87.1,530.1 89.5,538.1 91.3,537.4 93.7,543.5 96.2,541.5 98.4,530.1 100.7,532.1 102.8,544.8 105.1,561.9 107.1,562.4 109.1,566.2 112.5,572.2 114.5,567.5 116.7,560.8 118.9,570.2 121.2,582.9 123.9,587 126.7,592.5 129.5,596.4 131.5,595.3 133.6,591.2 135.7,596.7 137.7,605 139.8,613.2 142.3,619.4 144.6,616 147.4,616.4 149.8,618 151.6,622.2 153.3,627.7 154.6,629 156.7,630.4 158.8,633.2 160.8,630.4 162.9,635.2 165.4,641.4 167.7,641.9 169.8,640.8 172.6,644.2 174.6,646 177,647.4 179.2,647.6 181.5,650.1 183.9,652.5 186.3,654.5 188.4,653.4 191.2,657.3 193.5,658.4 195.7,658.7 198,663.5 200.1,668 202.2,671.1 203.6,672 240.8,672" fill="none" stroke="#000" stroke-width="1.0" stroke-linejoin="round"/>
<polyline points="56.4,647.7 57.8,631.1 59.8,607.7 61.9,578 63.7,550.8 66,571.5 68.4,543.7 70.8,545.5 73.4,561.5 75.3,539.4 77.7,573.5 80.1,547.5 82.5,582 84.7,563.2 86.7,588.4 88.8,586.3 91.5,607.7 93.6,606.3 96.4,616 99.1,627 101.9,636.7 104.6,649.1 107.4,654.6 110.1,659.4 112.2,665.6 114.3,671.1 115.7,672 240.8,672" fill="none" stroke="#ff0000" stroke-width="1.0" stroke-linejoin="round"/>
<path d="M116 672H240.8" stroke="#d21c1c" stroke-width="1.25"/>
<text transform="translate(213.6 517.75) scale(0.9 1)" text-anchor="middle" class="pl">(g)</text>
<text x="148.4" y="708" text-anchor="middle" class="xl"><tspan class="gr">ε</tspan>&#160;&#160;[ eV ]</text>
<path d="M298.43 672v-2.8M298.43 488v2.8M309.96 672v-5.5M309.96 488v5.5M321.49 672v-2.8M321.49 488v2.8M333.02 672v-5.5M333.02 488v5.5M344.56 672v-2.8M344.56 488v2.8M356.09 672v-5.5M356.09 488v5.5M367.62 672v-2.8M367.62 488v2.8M379.15 672v-5.5M379.15 488v5.5M390.68 672v-2.8M390.68 488v2.8M402.21 672v-5.5M402.21 488v5.5M413.74 672v-2.8M413.74 488v2.8M425.27 672v-5.5M425.27 488v5.5M436.81 672v-2.8M436.81 488v2.8M448.34 672v-5.5M448.34 488v5.5M459.87 672v-2.8M459.87 488v2.8M286.9 655.27h2.8M471.4 655.27h-2.8M286.9 638.55h5.5M471.4 638.55h-5.5M286.9 621.82h2.8M471.4 621.82h-2.8M286.9 605.09h5.5M471.4 605.09h-5.5M286.9 588.36h2.8M471.4 588.36h-2.8M286.9 571.64h5.5M471.4 571.64h-5.5M286.9 554.91h2.8M471.4 554.91h-2.8M286.9 538.18h5.5M471.4 538.18h-5.5M286.9 521.45h2.8M471.4 521.45h-2.8M286.9 504.73h5.5M471.4 504.73h-5.5" stroke="#000" stroke-width="1.1" fill="none"/>
<text x="286.9" y="686.8" text-anchor="middle" class="t">0</text>
<text x="309.96" y="686.8" text-anchor="middle" class="t">10</text>
<text x="333.02" y="686.8" text-anchor="middle" class="t">20</text>
<text x="356.09" y="686.8" text-anchor="middle" class="t">30</text>
<text x="379.15" y="686.8" text-anchor="middle" class="t">40</text>
<text x="402.21" y="686.8" text-anchor="middle" class="t">50</text>
<text x="425.27" y="686.8" text-anchor="middle" class="t">60</text>
<text x="448.34" y="686.8" text-anchor="middle" class="t">70</text>
<text x="471.4" y="686.8" text-anchor="middle" class="t">80</text>
<text x="281.3" y="674.9" text-anchor="end" class="t">0</text>
<text x="281.3" y="641.45" text-anchor="end" class="t">100</text>
<text x="281.3" y="607.99" text-anchor="end" class="t">200</text>
<text x="281.3" y="574.54" text-anchor="end" class="t">300</text>
<text x="281.3" y="541.08" text-anchor="end" class="t">400</text>
<text x="281.3" y="507.63" text-anchor="end" class="t">500</text>
<rect x="286.9" y="488" width="184.5" height="184" fill="none" stroke="#000" stroke-width="1.4"/>
<polyline points="287.1,657.3 288.4,638 290.5,621.5 292.6,613.2 294,611.8 295.3,599.4 296.7,584.3 298.1,580.1 300.4,571.5 301.7,560.8 303.7,551.5 305,544.8 306.4,539.4 307.7,538.1 309,536.8 311.1,538.8 313.1,536.1 315.1,535.4 317.1,538.8 319.1,531.4 320.4,526.1 322.4,519.4 324.4,530.1 326.4,540.8 328.4,550.1 330.4,560.8 332.4,563.5 334.4,563.5 336.4,558.2 338.4,542.1 340.5,540.1 342.5,542.1 343.8,551.5 345.8,568.8 347.8,575.5 350.1,591.9 352.6,588.4 355.3,584.3 358.1,580 359.8,573.5 361.8,575.5 363.2,581 364.3,581.5 366.1,580.1 367.4,592.5 368.4,604.3 370.5,602.2 373.2,600.8 376,602.2 377.8,605.6 380.2,603.6 382.2,599.1 384,609.8 386,616 388.1,622.8 389.9,627.7 391.8,621.5 394,617.3 395.9,611.8 397.7,620.1 399.8,625.6 401.9,629.7 403.9,632.5 406,629 407.8,625.6 409.4,632.5 411.5,635.2 413.6,638.7 416.1,640.8 417.7,643.5 419.8,644.9 422.1,647.6 424.6,648.3 426.7,649 428.7,647.6 430.8,642.8 432.9,649 434.9,655.9 437,659.4 438.4,662.8 439.1,666.9 439.8,671.1 441,672 471.4,672" fill="none" stroke="#000" stroke-width="1.0" stroke-linejoin="round"/>
<polyline points="287.1,642.2 288.4,617.4 289.8,596.7 291.2,581.5 292.3,569.5 294.4,568.2 296.4,556.8 299,525.4 301,527.4 303,524.7 304.4,523.4 306.1,504.7 307.7,519.4 309.5,526.1 311.3,526.1 313.1,512.7 315.1,518.1 316,526.1 318,530 319.7,532.1 321.7,539.4 323.7,548.8 326.4,560.8 329.1,571.5 330.5,576 332.6,587 333.9,598.1 336,592.5 338.1,605 340.8,616 343.2,609.8 345,628.4 347,649.1 348.4,662.9 349.5,671.1 350.5,672 471.4,672" fill="none" stroke="#ff0000" stroke-width="1.0" stroke-linejoin="round"/>
<g fill="#ff0000"><circle cx="290.5" cy="669.5" r="2.25"/><circle cx="296" cy="665.3" r="2.25"/><circle cx="297.1" cy="646.6" r="2.25"/><circle cx="297.8" cy="617" r="2.25"/><circle cx="299.4" cy="560.8" r="2.25"/><circle cx="300.8" cy="545.5" r="2.25"/><circle cx="301" cy="538.8" r="2.25"/><circle cx="301.7" cy="539.4" r="2.25"/><circle cx="302.1" cy="533.4" r="2.25"/><circle cx="303" cy="530.1" r="2.25"/><circle cx="304.4" cy="526.1" r="2.25"/><circle cx="305.7" cy="524.1" r="2.25"/><circle cx="307" cy="522.7" r="2.25"/><circle cx="308.4" cy="524.7" r="2.25"/><circle cx="306.4" cy="530.8" r="2.25"/><circle cx="309.7" cy="528.8" r="2.25"/><circle cx="309.7" cy="531.4" r="2.25"/><circle cx="311.1" cy="530.1" r="2.25"/><circle cx="312.4" cy="528.1" r="2.25"/><circle cx="313.7" cy="528.8" r="2.25"/><circle cx="315.1" cy="531.4" r="2.25"/><circle cx="316.4" cy="535.4" r="2.25"/><circle cx="317.7" cy="544.8" r="2.25"/><circle cx="319.1" cy="548.8" r="2.25"/><circle cx="320.4" cy="551.5" r="2.25"/><circle cx="321.7" cy="554.1" r="2.25"/><circle cx="323.1" cy="555.5" r="2.25"/><circle cx="323.7" cy="566.2" r="2.25"/><circle cx="325.1" cy="567.5" r="2.25"/><circle cx="326.4" cy="569.5" r="2.25"/><circle cx="327.8" cy="572.9" r="2.25"/><circle cx="328.4" cy="576.9" r="2.25"/><circle cx="328.8" cy="576.7" r="2.25"/><circle cx="329.4" cy="584.3" r="2.25"/><circle cx="330.2" cy="595.6" r="2.25"/><circle cx="331.2" cy="604.7" r="2.25"/><circle cx="332.2" cy="610.2" r="2.25"/><circle cx="333" cy="616.7" r="2.25"/><circle cx="333.9" cy="624.7" r="2.25"/><circle cx="334.9" cy="631.8" r="2.25"/><circle cx="335.7" cy="641.1" r="2.25"/><circle cx="336.7" cy="649.8" r="2.25"/><circle cx="337.7" cy="655" r="2.25"/><circle cx="338.5" cy="661.5" r="2.25"/><circle cx="339.5" cy="665.6" r="2.25"/><circle cx="340.1" cy="668.7" r="2.25"/><circle cx="300.8" cy="545.2" r="2.25"/><circle cx="302" cy="539.2" r="2.25"/><circle cx="302.5" cy="530.8" r="2.25"/><circle cx="304.3" cy="523.7" r="2.25"/><circle cx="306.7" cy="522.5" r="2.25"/><circle cx="309.1" cy="524.9" r="2.25"/><circle cx="311.5" cy="527.3" r="2.25"/><circle cx="313.9" cy="528.5" r="2.25"/><circle cx="315.7" cy="530.8" r="2.25"/><circle cx="316.9" cy="534.4" r="2.25"/><circle cx="307.9" cy="530.8" r="2.25"/><circle cx="305.5" cy="529.6" r="2.25"/><circle cx="310.3" cy="530.8" r="2.25"/><circle cx="313.3" cy="533.2" r="2.25"/><circle cx="303.1" cy="534.4" r="2.25"/><circle cx="318.7" cy="550" r="2.25"/><circle cx="320.5" cy="552.3" r="2.25"/><circle cx="322.3" cy="554.7" r="2.25"/><circle cx="324" cy="556" r="2.25"/><circle cx="323.5" cy="566.7" r="2.25"/><circle cx="325.8" cy="569" r="2.25"/><circle cx="327" cy="572.7" r="2.25"/></g>
<rect x="339.8" y="670" width="91.3" height="3" fill="#ff0000"/>
<rect x="430.5" y="670.2" width="41" height="2.8" fill="#c4c4c4"/>
<path d="M430.5 670.2H471.5" stroke="#333" stroke-width="0.9"/>
<g fill="#fff" stroke="#2a2a2a" stroke-width="0.6"><circle cx="289.8" cy="670.4" r="2.35"/><circle cx="295.3" cy="667" r="2.35"/><circle cx="296.7" cy="651.6" r="2.35"/><circle cx="297.4" cy="632.3" r="2.35"/><circle cx="298.4" cy="607.4" r="2.35"/><circle cx="299.2" cy="586.8" r="2.35"/><circle cx="300.4" cy="571.5" r="2.35"/><circle cx="300.4" cy="564.8" r="2.35"/><circle cx="301.7" cy="557.5" r="2.35"/><circle cx="303" cy="555.5" r="2.35"/><circle cx="304.8" cy="552.8" r="2.35"/><circle cx="306.4" cy="550.1" r="2.35"/><circle cx="308" cy="547.7" r="2.35"/><circle cx="309.7" cy="545.5" r="2.35"/><circle cx="311.7" cy="544.8" r="2.35"/><circle cx="313.3" cy="547.5" r="2.35"/><circle cx="314.7" cy="542.1" r="2.35"/><circle cx="315.7" cy="537.4" r="2.35"/><circle cx="317.1" cy="539.4" r="2.35"/><circle cx="318.7" cy="542.1" r="2.35"/><circle cx="320.4" cy="543.5" r="2.35"/><circle cx="322.1" cy="545.5" r="2.35"/><circle cx="324" cy="547.5" r="2.35"/><circle cx="325.8" cy="544.8" r="2.35"/><circle cx="327.5" cy="540.8" r="2.35"/><circle cx="329.1" cy="536.8" r="2.35"/><circle cx="331.1" cy="533.4" r="2.35"/><circle cx="332.4" cy="536.8" r="2.35"/><circle cx="334.2" cy="543.5" r="2.35"/><circle cx="335.5" cy="544.8" r="2.35"/><circle cx="337.8" cy="548.1" r="2.35"/><circle cx="339.1" cy="552.8" r="2.35"/><circle cx="340" cy="556.8" r="2.35"/><circle cx="341.8" cy="560.8" r="2.35"/><circle cx="343.8" cy="562.8" r="2.35"/><circle cx="345.8" cy="560.8" r="2.35"/><circle cx="347.8" cy="561.5" r="2.35"/><circle cx="349.8" cy="564.8" r="2.35"/><circle cx="351.1" cy="571.5" r="2.35"/><circle cx="353.1" cy="572.2" r="2.35"/><circle cx="352.6" cy="576.7" r="2.35"/><circle cx="355.1" cy="574.2" r="2.35"/><circle cx="355.3" cy="578.8" r="2.35"/><circle cx="357.2" cy="576.9" r="2.35"/><circle cx="358.1" cy="582.9" r="2.35"/><circle cx="360.1" cy="587" r="2.35"/><circle cx="362.2" cy="589.1" r="2.35"/><circle cx="364.3" cy="591.2" r="2.35"/><circle cx="366.3" cy="589.1" r="2.35"/><circle cx="368.4" cy="591.2" r="2.35"/><circle cx="369.8" cy="593.9" r="2.35"/><circle cx="371.2" cy="596.7" r="2.35"/><circle cx="372.5" cy="599.4" r="2.35"/><circle cx="373.9" cy="602.9" r="2.35"/><circle cx="375" cy="598.7" r="2.35"/><circle cx="375.3" cy="606.3" r="2.35"/><circle cx="375.7" cy="606.3" r="2.35"/><circle cx="376.4" cy="611.8" r="2.35"/><circle cx="378.4" cy="613.2" r="2.35"/><circle cx="380.5" cy="612.5" r="2.35"/><circle cx="382.6" cy="611.8" r="2.35"/><circle cx="384" cy="614.6" r="2.35"/><circle cx="385.3" cy="617.3" r="2.35"/><circle cx="386.7" cy="620.1" r="2.35"/><circle cx="388.8" cy="620.1" r="2.35"/><circle cx="390.2" cy="621.5" r="2.35"/><circle cx="391.3" cy="624.2" r="2.35"/><circle cx="392.6" cy="627" r="2.35"/><circle cx="394.3" cy="629.7" r="2.35"/><circle cx="395.7" cy="628.4" r="2.35"/><circle cx="397.3" cy="629" r="2.35"/><circle cx="399.1" cy="631.1" r="2.35"/><circle cx="401.2" cy="632.5" r="2.35"/><circle cx="403.2" cy="631.8" r="2.35"/><circle cx="405.3" cy="633.9" r="2.35"/><circle cx="407.8" cy="632.5" r="2.35"/><circle cx="409.4" cy="633.9" r="2.35"/><circle cx="411.1" cy="635.2" r="2.35"/><circle cx="412.9" cy="636.6" r="2.35"/><circle cx="415" cy="633.9" r="2.35"/><circle cx="417" cy="633.2" r="2.35"/><circle cx="418.8" cy="634.6" r="2.35"/><circle cx="420.2" cy="638" r="2.35"/><circle cx="421.6" cy="642.1" r="2.35"/><circle cx="422.5" cy="646.3" r="2.35"/><circle cx="423.5" cy="650.4" r="2.35"/><circle cx="424.9" cy="654.5" r="2.35"/><circle cx="426.3" cy="658" r="2.35"/><circle cx="427.6" cy="661.4" r="2.35"/><circle cx="429" cy="664.9" r="2.35"/><circle cx="430.1" cy="667.6" r="2.35"/><circle cx="431.1" cy="670.4" r="2.35"/></g>
<text transform="translate(446.3 516.25) scale(0.9 1)" text-anchor="middle" class="pl">(h)</text>
<text x="379.15" y="708" text-anchor="middle" class="xl"><tspan class="gr">ε</tspan>&#160;&#160;[ eV ]</text>
<path d="M529.31 672v-2.8M529.31 488v2.8M540.82 672v-5.5M540.82 488v5.5M552.34 672v-2.8M552.34 488v2.8M563.85 672v-5.5M563.85 488v5.5M575.36 672v-2.8M575.36 488v2.8M586.88 672v-5.5M586.88 488v5.5M598.39 672v-2.8M598.39 488v2.8M609.9 672v-5.5M609.9 488v5.5M621.41 672v-2.8M621.41 488v2.8M632.92 672v-5.5M632.92 488v5.5M644.44 672v-2.8M644.44 488v2.8M655.95 672v-5.5M655.95 488v5.5M667.46 672v-2.8M667.46 488v2.8M678.98 672v-5.5M678.98 488v5.5M690.49 672v-2.8M690.49 488v2.8M517.8 654.48h2.8M702 654.48h-2.8M517.8 636.95h5.5M702 636.95h-5.5M517.8 619.43h2.8M702 619.43h-2.8M517.8 601.9h5.5M702 601.9h-5.5M517.8 584.38h2.8M702 584.38h-2.8M517.8 566.86h5.5M702 566.86h-5.5M517.8 549.33h2.8M702 549.33h-2.8M517.8 531.81h5.5M702 531.81h-5.5M517.8 514.29h2.8M702 514.29h-2.8M517.8 496.76h5.5M702 496.76h-5.5" stroke="#000" stroke-width="1.1" fill="none"/>
<text x="517.8" y="686.8" text-anchor="middle" class="t">0</text>
<text x="540.82" y="686.8" text-anchor="middle" class="t">10</text>
<text x="563.85" y="686.8" text-anchor="middle" class="t">20</text>
<text x="586.88" y="686.8" text-anchor="middle" class="t">30</text>
<text x="609.9" y="686.8" text-anchor="middle" class="t">40</text>
<text x="632.92" y="686.8" text-anchor="middle" class="t">50</text>
<text x="655.95" y="686.8" text-anchor="middle" class="t">60</text>
<text x="678.98" y="686.8" text-anchor="middle" class="t">70</text>
<text x="702" y="686.8" text-anchor="middle" class="t">80</text>
<text x="512.2" y="674.9" text-anchor="end" class="t">0</text>
<text x="512.2" y="639.85" text-anchor="end" class="t">100</text>
<text x="512.2" y="604.8" text-anchor="end" class="t">200</text>
<text x="512.2" y="569.76" text-anchor="end" class="t">300</text>
<text x="512.2" y="534.71" text-anchor="end" class="t">400</text>
<text x="512.2" y="499.66" text-anchor="end" class="t">500</text>
<rect x="517.8" y="488" width="184.2" height="184" fill="none" stroke="#000" stroke-width="1.4"/>
<polyline points="518,661.5 519.8,654.6 521.9,638 524,624.3 526,611.8 527.7,607 529.5,609.8 531.5,600.8 533.6,592.5 535,587.7 537.1,585 539.1,577.4 541.9,581.5 544,585.7 546,584.3 548.4,588.4 550.6,581.5 552.9,581.5 555.7,581.5 557.7,587 559.1,577.4 560.4,566.2 562.4,560.2 564.2,568.8 564.6,580.1 567.1,584.3 569,589.8 571.5,597.4 574,587.7 575.9,596.7 577.7,602.2 579.8,587 582.6,580.8 584.6,582.2 586.7,587 589.5,595.3 592.2,605 595,609.1 597,611.6 599.1,607.7 601.6,599.4 603.9,616 606.2,605.8 608.4,601.5 610.5,607.7 613,616 615.3,622.2 617.7,617.4 619.9,634.6 622.2,630.4 625,622.2 627.1,620.8 629.5,618.7 631.5,636 633.9,629.1 636.4,638.3 638.8,636.6 641.1,634.6 643.3,636.6 645.7,638.7 647.7,642.4 650.2,640.1 652.6,638.7 654.9,643.5 657.1,648.4 659.4,643.5 661.5,640.8 664,640.5 666.3,638.7 668.4,642.2 670.5,650.4 672.5,658.7 674.6,667 676,672 702,672" fill="none" stroke="#000" stroke-width="1.0" stroke-linejoin="round"/>
<polyline points="518,660.1 519.1,647.7 520.5,624.3 523.3,623.6 524.7,610.5 526,596.7 527.7,569.5 529.7,573.5 532.4,577.9 534.4,539.4 536.8,520.1 539.1,548.8 541.5,567.5 543.7,536.8 546.4,509.4 548.4,552.8 550.8,572.6 553.1,537.4 555.4,540.8 557.8,567.2 560,537.4 562.4,548.1 564.4,546.1 566.8,544.5 569.1,548.8 571.4,536.1 574.1,521 575.1,539.4 576.5,581 577,603.6 578.1,644.9 579.8,661.5 580.9,672 702,672" fill="none" stroke="#ff0000" stroke-width="1.0" stroke-linejoin="round"/>
<path d="M581 672H702" stroke="#d21c1c" stroke-width="1.25"/>
<text transform="translate(682.3 513) scale(0.9 1)" text-anchor="middle" class="pl">(i)</text>
<text x="609.9" y="708" text-anchor="middle" class="xl"><tspan class="gr">ε</tspan>&#160;&#160;[ eV ]</text>
<text transform="translate(10.2 111.4) rotate(-90)" text-anchor="middle" class="yl"><tspan font-style="italic">F</tspan>(<tspan class="gr" font-size="11.5">ε</tspan>) [ a.u. ]</text>
<text transform="translate(10.2 351.6) rotate(-90)" text-anchor="middle" class="yl"><tspan font-style="italic">F</tspan>(<tspan class="gr" font-size="11.5">ε</tspan>) [ a.u. ]</text>
<text transform="translate(10.2 579.1) rotate(-90)" text-anchor="middle" class="yl"><tspan font-style="italic">F</tspan>(<tspan class="gr" font-size="11.5">ε</tspan>) [ a.u. ]</text>
<text transform="translate(724.6 122) rotate(-90)" text-anchor="middle" class="rl"><tspan font-style="italic">I</tspan> = 0</text>
<text transform="translate(724.6 358) rotate(-90)" text-anchor="middle" class="rl"><tspan font-style="italic">I</tspan> = 0.5</text>
<text transform="translate(724.6 583) rotate(-90)" text-anchor="middle" class="rl"><tspan font-style="italic">I</tspan> = 1</text>
<text x="114" y="17.4" class="ti"><tspan class="al">α</tspan> = 6x10<tspan dy="-8.4" font-size="11">-4</tspan></text>
<text x="346.2" y="17.4" class="ti"><tspan class="al">α</tspan> = 6x10<tspan dy="-8.4" font-size="11">-3</tspan></text>
<text x="571.3" y="17.4" class="ti"><tspan class="al">α</tspan> = 6x10<tspan dy="-8.4" font-size="11">-2</tspan></text>
</svg>
</body></html>
